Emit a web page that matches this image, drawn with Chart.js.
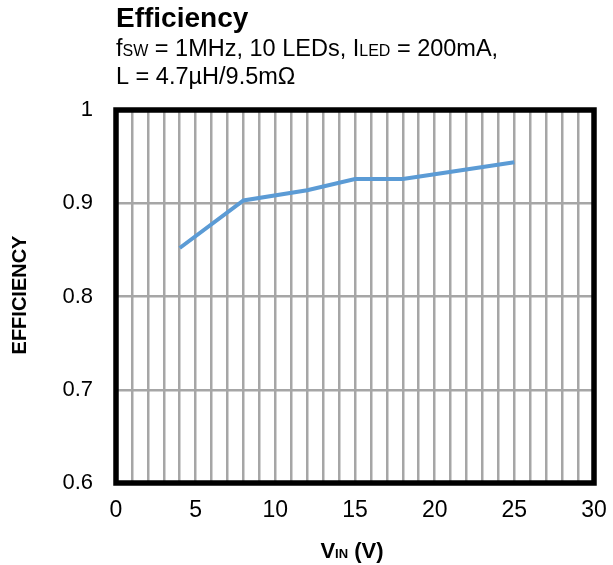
<!DOCTYPE html>
<html>
<head>
<meta charset="utf-8">
<title>Efficiency</title>
<script src="https://cdn.jsdelivr.net/npm/chart.js@4"></script>
<style>
    body { margin: 0; background: #fff; }
    #wrap { width: 613px; height: 565px; }
</style>
</head>
<body>
<div id="wrap"><canvas id="effChart" width="613" height="565"></canvas></div>
<script>
// ข้อมูลกราฟ (อ่านจากรูป)
const vinValues = [4, 8, 12, 15, 18, 20, 25];
const efficiencyValues = [0.852, 0.903, 0.914, 0.926, 0.926, 0.931, 0.944];
const xRange = [0, 30];
const yRange = [0.6, 1];
const xLabelStep = 5;

const FONT = '"Liberation Sans", Arial, sans-serif';

// วาดข้อความที่มีตัวห้อย: parts = [[text, isSmall], ...]
function drawRich(ctx, parts, x, y, size, bold, small) {
    let cx = x;
    parts.forEach(([text, isSmall]) => {
        const s = isSmall ? small : size;
        ctx.font = (bold ? 'bold ' : '') + s + 'px ' + FONT;
        ctx.fillText(text, cx, y);
        cx += ctx.measureText(text).width;
    });
    return cx - x;
}

function richWidth(ctx, parts, size, bold, small) {
    let w = 0;
    parts.forEach(([text, isSmall]) => {
        ctx.font = (bold ? 'bold ' : '') + (isSmall ? small : size) + 'px ' + FONT;
        w += ctx.measureText(text).width;
    });
    return w;
}

const decorPlugin = {
    id: 'decor',
    afterDraw(chart) {
        const ctx = chart.ctx;
        const area = chart.chartArea;
        ctx.save();
        ctx.fillStyle = '#000';
        ctx.textAlign = 'left';
        ctx.textBaseline = 'alphabetic';

        // หัวข้อ
        ctx.font = 'bold 28px ' + FONT;
        ctx.fillText('Efficiency', 116, 27);
        drawRich(ctx, [['f', false], ['SW', true], [' = 1MHz, 10 LEDs, I', false], ['LED', true], [' = 200mA,', false]], 116, 56, 23.5, false, 16);
        drawRich(ctx, [['L = 4.7µH/9.5mΩ', false]], 116, 84, 23.5, false, 16);

        // ชื่อแกน X
        const xParts = [['V', false], ['IN', true], [' (V)', false]];
        const xw = richWidth(ctx, xParts, 22, true, 13);
        drawRich(ctx, xParts, (area.left + area.right) / 2 - xw / 2 - 3, 558, 22, true, 13);

        // ชื่อแกน Y
        ctx.translate(26, 295);
        ctx.rotate(-Math.PI / 2);
        ctx.textAlign = 'center';
        ctx.font = 'bold 20px ' + FONT;
        ctx.fillText('EFFICIENCY', 0, 0);
        ctx.restore();

        // กรอบดำ
        ctx.save();
        ctx.strokeStyle = '#000';
        ctx.lineWidth = 5.5;
        ctx.strokeRect(area.left, area.top, area.right - area.left, area.bottom - area.top);
        ctx.restore();
    }
};

new Chart(document.getElementById('effChart'), {
    type: 'line',
    data: {
        datasets: [{
            data: vinValues.map((v, i) => ({ x: v, y: efficiencyValues[i] })),
            borderColor: '#5b9bd5',
            borderWidth: 4,
            pointRadius: 0,
            tension: 0,
            fill: false
        }]
    },
    options: {
        responsive: false,
        animation: false,
        layout: { padding: { left: 0, top: 110, right: 19, bottom: 0 } },
        plugins: { legend: { display: false }, tooltip: { enabled: false } },
        scales: {
            x: {
                type: 'linear',
                min: xRange[0],
                max: xRange[1],
                afterFit: (scale) => {
                    scale.height = 82;
                    scale.paddingLeft = 0;
                    scale.paddingRight = 0;
                },
                grid: { color: '#a6a6a6', lineWidth: 2.5, drawTicks: false },
                border: { display: false },
                ticks: {
                    stepSize: 1,
                    autoSkip: false,
                    maxRotation: 0,
                    padding: 14,
                    color: '#000',
                    font: { family: FONT, size: 23 },
                    callback: (v) => (v % xLabelStep === 0 ? String(v) : '')
                }
            },
            y: {
                min: yRange[0],
                max: yRange[1],
                afterFit: (scale) => {
                    scale.width = 116;
                    scale.paddingTop = 0;
                    scale.paddingBottom = 0;
                },
                grid: { color: '#a6a6a6', lineWidth: 2.5, drawTicks: false },
                border: { display: false },
                ticks: {
                    stepSize: 0.1,
                    padding: 23,
                    color: '#000',
                    font: { family: FONT, size: 22 },
                    callback: (v) => String(Number(v.toFixed(1)))
                }
            }
        }
    },
    plugins: [decorPlugin]
});
</script>
</body>
</html>
